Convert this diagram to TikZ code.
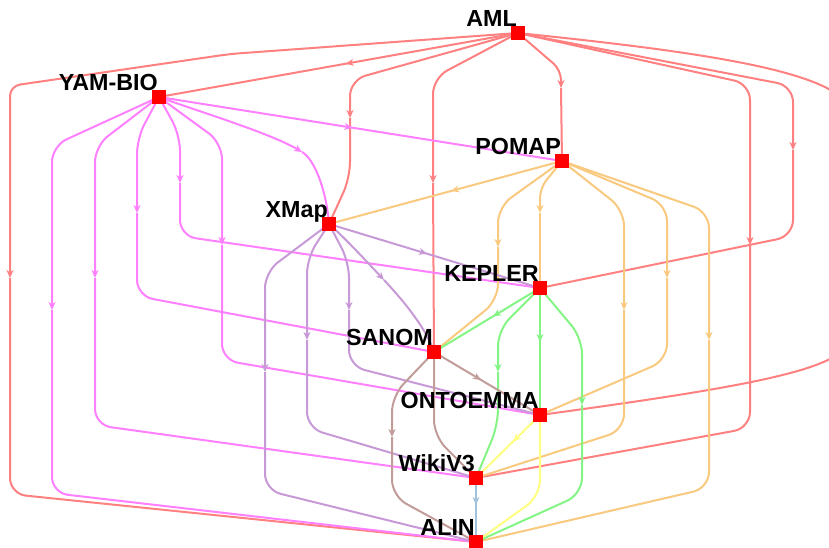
\documentclass[tikz,border=0pt]{standalone}
\usepackage{fontspec}
\setmainfont{Liberation Sans}
\usetikzlibrary{arrows.meta,decorations.markings}
\pgfdeclarelayer{bg}
\pgfsetlayers{bg,main}
\definecolor{cR}{HTML}{FF8080}
\definecolor{cM}{HTML}{FF80FF}
\definecolor{cO}{HTML}{F8C97E}
\definecolor{cP}{HTML}{C799D6}
\definecolor{cG}{HTML}{84F584}
\definecolor{cB}{HTML}{C19C99}
\definecolor{cY}{HTML}{FFFF80}
\definecolor{cBl}{HTML}{A0C2DC}
\begin{document}
\begin{tikzpicture}[x=1pt,y=-1pt,
  sq/.style={rectangle,fill=red,draw=none,minimum size=14pt,inner sep=0pt},
  lbl/.style={anchor=base east,inner sep=0pt,font=\fontsize{23.3}{25}\selectfont\bfseries},
  e/.style={line width=2pt,rounded corners=16pt},
  ar/.style={-{Stealth[length=8pt,width=7pt,inset=2.5pt]}},
  midar/.style={postaction={decorate},decoration={markings,mark=at position #1 with {\arrow{Stealth[length=8pt,width=7pt,inset=2.5pt]}}}}]
\useasboundingbox (0,0) rectangle (829,548);
% nodes
\node[sq] (AML) at (518,33) {};
\node[sq] (YAM) at (159,97) {};
\node[sq] (POMAP) at (562,161) {};
\node[sq] (XMap) at (329,224) {};
\node[sq] (KEPLER) at (540,288) {};
\node[sq] (SANOM) at (434,352) {};
\node[sq] (ONTO) at (540,415) {};
\node[sq] (Wiki) at (476,478) {};
\node[sq] (ALIN) at (476,542) {};
% labels
\node[lbl] (AMLt) at ([shift={(-1,-6.5)}]AML.center) {AML};
\node[lbl] (YAMt) at ([shift={(-1,-6.5)}]YAM.center) {YAM-BIO};
\node[lbl] (POMAPt) at ([shift={(-1,-6.5)}]POMAP.center) {POMAP};
\node[lbl] (XMapt) at ([shift={(-1,-6.5)}]XMap.center) {XMap};
\node[lbl] (KEPLERt) at ([shift={(-1,-6.5)}]KEPLER.center) {KEPLER};
\node[lbl] (SANOMt) at ([shift={(-1,-6.5)}]SANOM.center) {SANOM};
\node[lbl] (ONTOt) at ([shift={(-1,-6.5)}]ONTO.center) {ONTOEMMA};
\node[lbl] (Wikit) at ([shift={(-1,-6.5)}]Wiki.center) {WikiV3};
\node[lbl] (ALINt) at ([shift={(-1,-6.5)}]ALIN.center) {ALIN};
\begin{pgfonlayer}{bg}
% AML (red)
\draw[e,cR,midar=0.48] (AML.center) -- (YAM.center);
\draw[e,cR,ar,rounded corners=10pt] (AML.center) -- (230,54) -- (10,86) -- (10,278);
\draw[e,cR] (10,278) -- (10,494) -- (ALIN.center);
\draw[e,cR,ar] (AML.center) -- (350,80) -- (350,118);
\draw[e,cR] (350,118) -- (350,178) -- (XMap.center);
\draw[e,cR,ar] (AML.center) -- (433,78) -- (433,183);
\draw[e,cR] (433,183) -- (SANOM.center);
\draw[e,cR,ar,rounded corners=10pt] (AML.center) -- (561,70) -- (561,88);
\draw[e,cR] (561,88) -- (POMAP.center);
\draw[e,cR,ar] (AML.center) -- (793,86) -- (793,150);
\draw[e,cR] (793,150) -- (793,236) -- (KEPLER.center);
\draw[e,cR,ar] (AML.center) -- (750,84) -- (750,245);
\draw[e,cR] (750,245) -- (750,428) -- (Wiki.center);
\draw[e,cR,ar] (AML.center) .. controls (680,50) and (850,70) .. (850,130) -- (850,240);
\draw[e,cR] (850,240) -- (850,320) .. controls (850,368) and (760,385) .. (ONTO.center);
% YAM-BIO (magenta)
\draw[e,cM,midar=0.48] (YAM.center) -- (POMAP.center);
\draw[e,cM,ar] (YAM.center) .. controls (200,112) and (270,133) .. (302,152);
\draw[e,cM] (302,152) .. controls (316,160) and (327,195) .. (XMap.center);
\draw[e,cM,ar] (YAM.center) -- (52,146) -- (52,310);
\draw[e,cM] (52,310) -- (52,493) -- (ALIN.center);
\draw[e,cM,ar] (YAM.center) -- (95,146) -- (95,278);
\draw[e,cM] (95,278) -- (95,425) -- (Wiki.center);
\draw[e,cM,ar] (YAM.center) -- (137,138) -- (137,213);
\draw[e,cM] (137,213) -- (137,296) -- (SANOM.center);
\draw[e,cM,ar] (YAM.center) -- (180,135) -- (180,183);
\draw[e,cM] (180,183) -- (180,236) -- (KEPLER.center);
\draw[e,cM,ar] (YAM.center) -- (222,143) -- (222,245);
\draw[e,cM] (222,245) -- (222,360) -- (ONTO.center);
% POMAP (orange)
\draw[e,cO,midar=0.476] (POMAP.center) -- (XMap.center);
\draw[e,cO,ar] (POMAP.center) -- (498,207) -- (498,247);
\draw[e,cO] (498,247) -- (498,300) -- (SANOM.center);
\draw[e,cO,ar,rounded corners=10pt] (POMAP.center) -- (540,188) -- (540,213);
\draw[e,cO] (540,213) -- (KEPLER.center);
\draw[e,cO,ar] (POMAP.center) -- (624,210) -- (624,310);
\draw[e,cO] (624,310) -- (624,430) -- (Wiki.center);
\draw[e,cO,ar] (POMAP.center) -- (667,205) -- (667,278);
\draw[e,cO] (667,278) -- (667,360) -- (ONTO.center);
\draw[e,cO,ar] (POMAP.center) -- (709,212) -- (709,340);
\draw[e,cO] (709,340) -- (709,488) -- (ALIN.center);
% XMap (purple)
\draw[e,cP,midar=0.464] (XMap.center) -- (KEPLER.center);
\draw[e,cP,ar] (XMap.center) .. controls (345,238) and (370,265) .. (384,280);
\draw[e,cP] (384,280) .. controls (398,295) and (425,325) .. (SANOM.center);
\draw[e,cP,ar] (XMap.center) -- (349,262) -- (349,310);
\draw[e,cP] (349,310) -- (349,366) -- (ONTO.center);
\draw[e,cP,ar] (XMap.center) -- (307,258) -- (307,340);
\draw[e,cP] (307,340) -- (307,428) -- (Wiki.center);
\draw[e,cP,ar] (XMap.center) -- (265,272) -- (265,372);
\draw[e,cP] (265,372) -- (265,490) -- (ALIN.center);
% KEPLER (green)
\draw[e,cG,midar=0.443] (KEPLER.center) -- (SANOM.center);
\draw[e,cG,ar] (KEPLER.center) -- (498,330) -- (498,372);
\draw[e,cG] (498,372) -- (498,425) -- (Wiki.center);
\draw[e,cG,midar=0.425] (KEPLER.center) -- (ONTO.center);
\draw[e,cG,ar] (KEPLER.center) -- (582,338) -- (582,405);
\draw[e,cG] (582,405) -- (582,494) -- (ALIN.center);
% SANOM (brown)
\draw[e,cB,midar=0.443] (SANOM.center) -- (ONTO.center);
\draw[e,cB] (SANOM.center) -- (434,436) -- (Wiki.center);
\draw[e,cB,ar] (SANOM.center) -- (392,396) -- (392,437);
\draw[e,cB] (392,437) -- (392,496) -- (ALIN.center);
% ONTOEMMA (yellow)
\draw[e,cY,midar=0.42] (ONTO.center) -- (Wiki.center);
\draw[e,cY] (ONTO.center) -- (540,496) -- (ALIN.center);
% WikiV3 (blue)
\draw[e,cBl,midar=0.42] (Wiki.center) -- (ALIN.center);
\end{pgfonlayer}
\end{tikzpicture}
\end{document}
